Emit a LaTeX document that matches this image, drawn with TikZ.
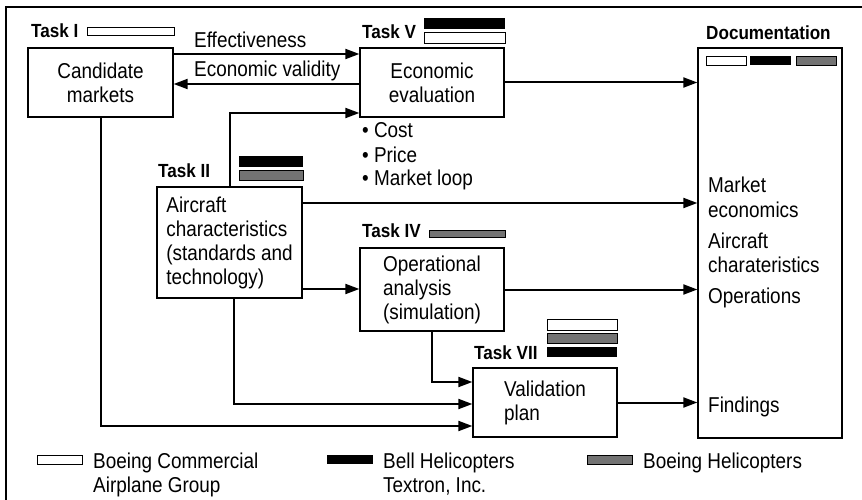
\documentclass[tikz,border=0pt]{standalone}
\usepackage{fontspec}
\setmainfont{Liberation Sans}[FakeStretch=0.88]
\newfontfamily\taskfont{Liberation Sans}[FakeStretch=0.9]
\usetikzlibrary{arrows.meta}
\tikzset{
  box/.style={draw, line width=1.3pt, inner sep=0pt, align=left, font=\fontsize{21.5}{24}\selectfont},
  txt/.style={inner sep=0pt, anchor=base west, font=\fontsize{21.5}{24}\selectfont},
  tasklbl/.style={inner sep=0pt, anchor=base west, font=\taskfont\bfseries\fontsize{19}{21}\selectfont},
  conn/.style={line width=2pt, -{Triangle[length=14pt,width=10pt]}},
  wbar/.style={draw, line width=0.8pt, fill=white},
  bbar/.style={fill=black},
  hbar/.style={draw=black, line width=0.5pt, fill=black!55}
}
\begin{document}
\begin{tikzpicture}[x=1pt,y=-1pt]
\useasboundingbox (0,0) rectangle (862,500);
\clip (0,0) rectangle (862,500);
\fill[white] (0,0) rectangle (862,500);
% outer frame
\draw[line width=1.8pt] (6,530) -- (6,7) -- (890,7);

% boxes
\node[box, align=center, minimum width=145pt, minimum height=69pt] (cm) at (100.5,82.5) {Candidate\\markets};
\node[box, align=center, minimum width=144pt, minimum height=69pt] (econ) at (432,82.5) {Economic\\evaluation};
\node[box, minimum width=145pt, minimum height=111pt] (air) at (229.5,242.5) {Aircraft\\characteristics\\(standards and\\technology)};
\node[box, minimum width=144pt, minimum height=83pt] (op) at (432,289.5) {Operational\\analysis\\(simulation)};
\node[box, minimum width=144pt, minimum height=69pt] (val) at (545,402.5) {Validation\\plan};
\node[box, minimum width=144pt, minimum height=390pt] (doc) at (770,243) {};

% task labels and bars
\node[tasklbl] (t1) at (31,38) {Task I};
\draw[wbar] (87,27) rectangle (174,35);
\node[tasklbl] (t5) at (362,39) {Task V};
\fill[bbar] (424,18) rectangle (505,29);
\draw[wbar] (424,32) rectangle (505,43);
\node[tasklbl] (t2) at (158,178) {Task II};
\fill[bbar] (239,156) rectangle (303,167);
\draw[hbar] (239,170) rectangle (303,180);
\node[tasklbl] (t4) at (362,237) {Task IV};
\draw[hbar] (429,230) rectangle (505,237);
\node[tasklbl] (t7) at (474,359) {Task VII};
\draw[wbar] (547,319) rectangle (617,330);
\draw[hbar] (547,333) rectangle (617,343);
\fill[bbar] (547,347) rectangle (617,357);
\node[tasklbl] (tdoc) at (706,40) {Documentation};
\draw[wbar] (706,56) rectangle (746,65);
\fill[bbar] (750,56) rectangle (791,65);
\draw[hbar] (796,56) rectangle (836,65);

% connector labels
\node[txt] (leff) at (194,48) {Effectiveness};
\node[txt] (leco) at (194,77) {Economic validity};
\node[txt] (b1) at (362,138) {• Cost};
\node[txt] (b2) at (362,162) {• Price};
\node[txt] (b3) at (362,185) {• Market loop};

% documentation texts
\node[txt] (d1) at (708,193) {Market};
\node[txt] (d2) at (708,217) {economics};
\node[txt] (d3) at (708,248) {Aircraft};
\node[txt] (d4) at (708,272) {charateristics};
\node[txt] (d5) at (708,303) {Operations};
\node[txt] (d6) at (708,412) {Findings};

% connectors
\draw[conn] (cm.east |- 0,54) -- (econ.west |- 0,54);
\draw[conn] (econ.west |- 0,84) -- (cm.east |- 0,84);
\draw[conn] (air.north) |- (econ.west |- 0,113);
\draw[conn] (econ.east) -- (doc.west |- econ.east);
\draw[conn] (air.east |- 0,203) -- (doc.west |- 0,203);
\draw[conn] (air.east |- 0,289) -- (op.west |- 0,289);
\draw[conn] (op.east) -- (doc.west |- op.east);
\draw[conn] (op.south) |- (val.west |- 0,382);
\draw[conn] (234,0 |- air.south) |- (val.west |- 0,404);
\draw[conn] (cm.south) |- (val.west |- 0,426);
\draw[conn] (val.east) -- (doc.west |- val.east);

% legend
\draw[wbar] (37,455) rectangle (82,464);
\node[txt] (lg1) at (93,468) {Boeing Commercial};
\node[txt] (lg1b) at (93,492) {Airplane Group};
\fill[bbar] (327,455) rectangle (373,464);
\node[txt] (lg2) at (383,468) {Bell Helicopters};
\node[txt] (lg2b) at (383,492) {Textron, Inc.};
\draw[hbar] (587,455) rectangle (632,464);
\node[txt] (lg3) at (643,468) {Boeing Helicopters};
\end{tikzpicture}
\end{document}
